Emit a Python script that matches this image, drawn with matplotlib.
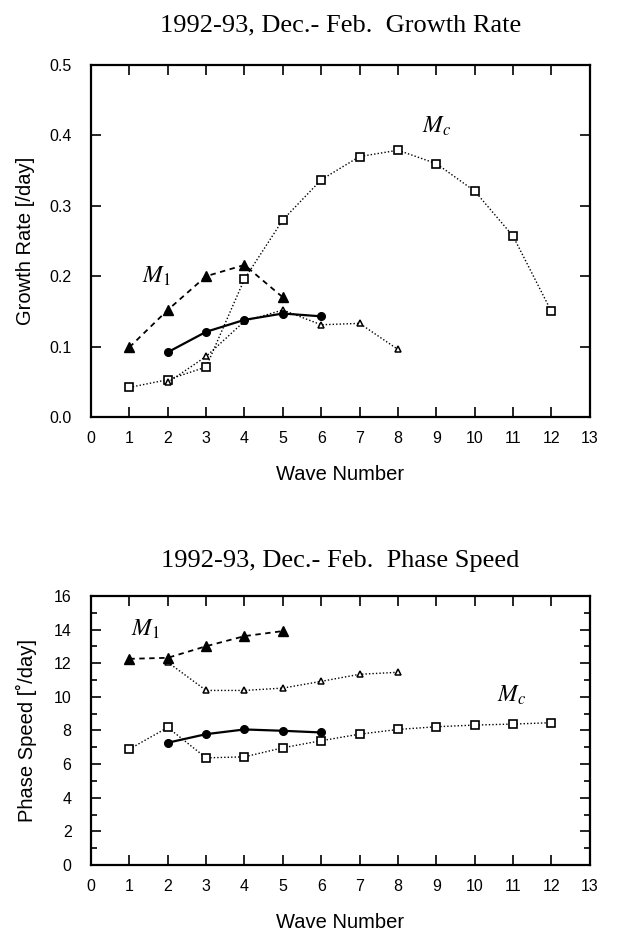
import matplotlib
matplotlib.use("Agg")
import matplotlib.pyplot as plt
from matplotlib.ticker import MultipleLocator

plt.rcParams['mathtext.fontset'] = 'stix'
plt.rcParams['font.family'] = ['Liberation Sans', 'DejaVu Sans']
plt.rcParams['xtick.labelsize'] = 11.5
plt.rcParams['ytick.labelsize'] = 11.5

# ---- Data: Growth rate (top panel) ----
gr_m1_x = [1, 2, 3, 4, 5]
gr_m1_y = [0.099, 0.152, 0.200, 0.216, 0.170]
gr_circ_x = [2, 3, 4, 5, 6]
gr_circ_y = [0.092, 0.121, 0.138, 0.147, 0.143]
gr_otri_x = [2, 3, 4, 5, 6, 7, 8]
gr_otri_y = [0.049, 0.086, 0.136, 0.152, 0.131, 0.133, 0.096]
gr_mc_x = [1, 2, 3, 4, 5, 6, 7, 8, 9, 10, 11, 12]
gr_mc_y = [0.042, 0.053, 0.071, 0.196, 0.280, 0.337, 0.370, 0.379, 0.360, 0.321, 0.257, 0.150]

# ---- Data: Phase speed (bottom panel) ----
ps_m1_x = [1, 2, 3, 4, 5]
ps_m1_y = [12.26, 12.32, 13.01, 13.61, 13.91]
ps_circ_x = [2, 3, 4, 5, 6]
ps_circ_y = [7.27, 7.78, 8.06, 7.98, 7.88]
ps_otri_x = [2, 3, 4, 5, 6, 7, 8]
ps_otri_y = [12.06, 10.38, 10.38, 10.52, 10.92, 11.34, 11.46]
ps_mc_x = [1, 2, 3, 4, 5, 6, 7, 8, 9, 10, 11, 12]
ps_mc_y = [6.89, 8.18, 6.37, 6.43, 6.97, 7.39, 7.78, 8.06, 8.22, 8.32, 8.38, 8.46]

x_ticks = list(range(0, 14))

serif = 'Liberation Serif'

fig = plt.figure(figsize=(6.25, 9.36), dpi=100)
ax1 = fig.add_axes([0.1456, 0.5545, 0.798, 0.376])
ax2 = fig.add_axes([0.1456, 0.0759, 0.798, 0.2874])


def draw(ax, m1x, m1y, cx, cy, tx, ty, mx, my):
    ax.plot(mx, my, ls=(0, (1, 1.5)), lw=1.0, color='black', marker='s',
            ms=5.5, mfc='white', mec='black', mew=1.2, zorder=2)
    ax.plot(tx, ty, ls=(0, (1, 1.5)), lw=1.0, color='black', marker='^',
            ms=5, mfc='white', mec='black', mew=1.1, zorder=3)
    ax.plot(m1x, m1y, ls=(0, (3, 2.5)), lw=1.3, color='black', marker='^',
            ms=7, mfc='black', mec='black', zorder=4)
    ax.plot(cx, cy, ls='-', lw=1.6, color='black', marker='o',
            ms=5.5, mfc='black', mec='black', zorder=5)


def style(ax):
    ax.set_xlim(0, 13)
    ax.set_xticks(x_ticks)
    for s in ax.spines.values():
        s.set_linewidth(1.6)
    ax.tick_params(which='both', direction='in', top=True, right=True, width=1.2)
    ax.tick_params(which='major', length=7)
    ax.tick_params(which='minor', length=4)
    ax.tick_params(axis='x', pad=10)
    ax.tick_params(axis='y', pad=14)
    ax.set_xlabel('Wave Number', fontsize=14.5, labelpad=14)


draw(ax1, gr_m1_x, gr_m1_y, gr_circ_x, gr_circ_y, gr_otri_x, gr_otri_y, gr_mc_x, gr_mc_y)
ax1.set_ylim(0, 0.5)
ax1.set_yticks([0.0, 0.1, 0.2, 0.3, 0.4, 0.5])
ax1.set_yticklabels(['0.0', '0.1', '0.2', '0.3', '0.4', '0.5'])
style(ax1)
ax1.set_ylabel('Growth Rate [/day]', fontsize=14.5)
ax1.yaxis.set_label_coords(-0.112, 0.5)
ax1.set_title('1992-93, Dec.- Feb.  Growth Rate', fontsize=19, fontfamily=serif, pad=24)
ax1.text(1.71, 0.20, r'$M_1$', fontsize=17, ha='center', va='center')
ax1.text(9.0, 0.413, r'$M_c$', fontsize=17, ha='center', va='center')

draw(ax2, ps_m1_x, ps_m1_y, ps_circ_x, ps_circ_y, ps_otri_x, ps_otri_y, ps_mc_x, ps_mc_y)
ax2.set_ylim(0, 16)
ax2.yaxis.set_major_locator(MultipleLocator(2))
ax2.yaxis.set_minor_locator(MultipleLocator(1))
style(ax2)
ax2.set_ylabel("Phase Speed [\u02da/day]", fontsize=14.5)
ax2.yaxis.set_label_coords(-0.108, 0.5)
ax2.set_title('1992-93, Dec.- Feb.  Phase Speed', fontsize=19, fontfamily=serif, pad=21)
ax2.text(1.41, 14.0, r'$M_1$', fontsize=17, ha='center', va='center')
ax2.text(10.96, 10.1, r'$M_c$', fontsize=17, ha='center', va='center')

fig.savefig('out.png', dpi=100)
